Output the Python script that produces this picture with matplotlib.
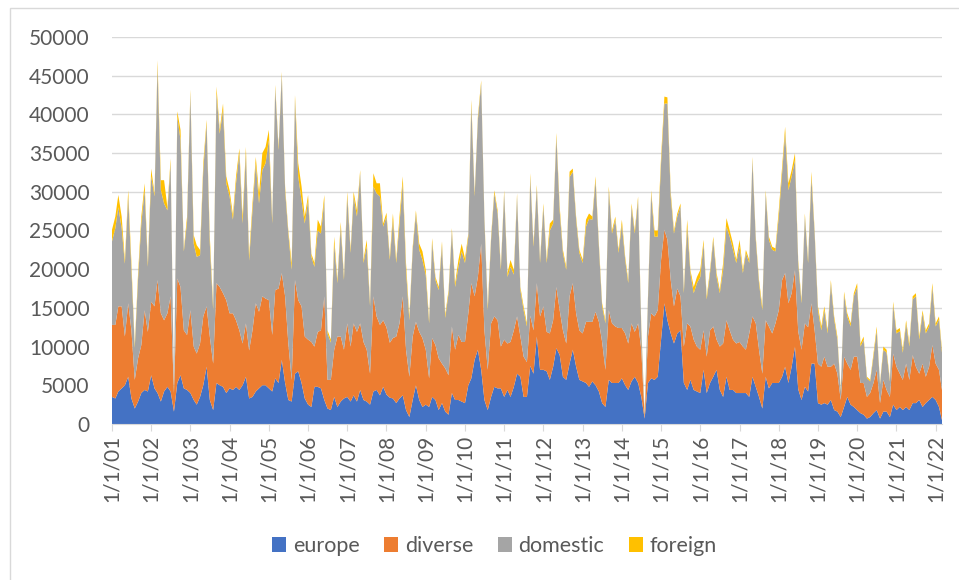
import matplotlib
matplotlib.use('Agg')
import matplotlib.pyplot as plt
import pandas as pd
from matplotlib.patches import Patch, Rectangle

# monthly values, Jan 2001 .. Mar 2022
months = pd.date_range('2001-01-01', periods=255, freq='MS')

europe = [
    3500, 3300, 4200, 4600, 5000, 6100, 3300, 2000, 2900, 4000,
    4400, 4200, 6300, 4600, 4000, 2900, 4200, 4800, 4200, 1600,
    5300, 6300, 4600, 4400, 4000, 3100, 2500, 3500, 5000, 7400,
    3100, 1800, 5300, 5000, 4800, 4000, 4600, 4400, 4800, 4400,
    5000, 6100, 3300, 3500, 4200, 4600, 5000, 5000, 4600, 4200,
    5900, 5300, 8300, 5300, 3100, 2900, 6500, 6800, 5300, 3300,
    2500, 2200, 4800, 4800, 4600, 3100, 2000, 1800, 3500, 2200,
    2900, 3300, 3500, 2900, 3700, 2900, 4400, 3100, 2900, 2500,
    4200, 4400, 3700, 4800, 3800, 3400, 3300, 2700, 3300, 3700,
    1800, 900, 3100, 5000, 3100, 2200, 2500, 2200, 3500, 3100,
    1800, 2700, 1600, 1200, 4000, 3100, 3100, 2900, 2700, 5000,
    5900, 8300, 9600, 7000, 3100, 1800, 3500, 4800, 4600, 4600,
    3500, 4400, 3500, 4800, 6500, 6100, 3500, 3500, 7500, 6500,
    11300, 7000, 7000, 6800, 5700, 7400, 9800, 8900, 6100, 5700,
    7800, 9600, 7400, 5700, 5500, 5300, 4800, 5500, 5000, 4200,
    2700, 2200, 5700, 5300, 5300, 5300, 5900, 5000, 4400, 5500,
    6100, 5300, 3500, 700, 5300, 5900, 5700, 6100, 10900, 15600,
    13400, 11700, 10400, 11700, 12100, 5300, 4400, 5700, 4400, 4200,
    4000, 7000, 4000, 5300, 6100, 7000, 4400, 3500, 6100, 4400,
    4400, 4000, 4000, 4000, 4000, 3500, 6100, 4800, 3500, 2000,
    6100, 4600, 5300, 5300, 5300, 6100, 7400, 5300, 7400, 10000,
    4500, 3100, 4800, 4200, 7800, 7800, 2700, 2500, 2700, 2500,
    3100, 1800, 1600, 900, 2200, 3500, 2500, 2200, 1800, 1400,
    1200, 700, 900, 1400, 1800, 700, 1600, 1600, 900, 2500,
    1800, 2200, 1800, 2200, 1800, 2700, 2700, 3100, 2200, 2700,
    3100, 3500, 3100, 2200, 500,
]

diverse = [
    9300, 9500, 11000, 10600, 6300, 9500, 8800, 3700, 5600, 6200,
    10300, 7700, 9500, 10600, 14600, 11400, 9200, 9500, 12300, 2400,
    13500, 11400, 7500, 7100, 10700, 6900, 6600, 6900, 8900, 7800,
    8200, 6000, 12900, 12700, 12100, 12000, 9700, 9900, 8600, 7700,
    5400, 6900, 6200, 8600, 11400, 9900, 11500, 11200, 11400, 7300,
    11400, 12200, 11200, 11200, 7300, 2800, 12100, 9200, 9900, 8000,
    8400, 8400, 5200, 7100, 7500, 13400, 3700, 3900, 6100, 9100,
    8400, 6300, 9500, 7100, 9300, 9000, 8600, 7500, 6700, 4000,
    12300, 9500, 9100, 8600, 8700, 7100, 7800, 8600, 9700, 12800,
    7800, 5200, 8200, 8200, 8800, 8900, 7100, 3700, 7600, 7100,
    6700, 5100, 5600, 5100, 8600, 6500, 8400, 7700, 7900, 9300,
    12300, 8200, 9400, 16300, 9000, 5200, 9500, 9100, 8800, 5400,
    7400, 6000, 7100, 7300, 7400, 5200, 5200, 4500, 6500, 5600,
    6900, 6900, 8200, 5100, 6000, 6000, 7900, 5800, 6000, 4700,
    8700, 8600, 6900, 6400, 6200, 7900, 8400, 7700, 9500, 9000,
    7900, 4800, 9000, 7700, 7300, 7100, 6500, 6700, 6000, 7500,
    5800, 7700, 6100, 200, 6000, 8400, 8200, 8600, 10300, 9500,
    10400, 6900, 4800, 5800, 4400, 4700, 8600, 6900, 6500, 5800,
    5600, 5100, 4700, 6800, 6500, 3900, 5600, 6900, 7300, 7700,
    6500, 6400, 6600, 6000, 5600, 8200, 7800, 8200, 6100, 4500,
    7300, 8000, 6400, 7700, 9400, 12500, 12100, 10300, 9500, 9900,
    7500, 6500, 8200, 8300, 7800, 4300, 5100, 4900, 6000, 4900,
    4300, 6000, 4900, 2200, 6500, 4300, 4500, 6500, 6900, 3900,
    4100, 2800, 3100, 3900, 5200, 2000, 4100, 2800, 2600, 6600,
    5600, 4300, 3900, 5600, 3900, 6200, 4700, 3400, 5600, 3400,
    4300, 6700, 4700, 4800, 3900,
]

domestic = [
    10800, 12500, 12800, 10100, 9400, 13800, 7800, 4100, 10300, 15700,
    15500, 8400, 16200, 14200, 27600, 15900, 15100, 13300, 17200, 400,
    20900, 19000, 10200, 14600, 28000, 13300, 12500, 11400, 18900, 23600,
    12000, 6900, 24500, 19800, 23700, 15100, 15100, 12100, 17700, 22900,
    15500, 22000, 11600, 15500, 18100, 14000, 16300, 17500, 20700, 14400,
    26100, 17900, 25600, 13700, 14200, 14200, 23300, 16000, 13700, 14600,
    18000, 11000, 10300, 13100, 12500, 12400, 6000, 4800, 13700, 6900,
    14200, 9000, 16400, 12100, 16400, 14900, 19400, 10200, 13400, 8700,
    14200, 15900, 16600, 12100, 14300, 10700, 15300, 9500, 12900, 14600,
    10300, 7300, 11200, 14000, 10600, 10100, 9600, 7100, 12400, 8400,
    8800, 15300, 6500, 10600, 12300, 8100, 8800, 11700, 10200, 9900,
    23000, 12900, 20300, 20700, 14300, 7700, 10800, 15900, 13800, 9900,
    18900, 8600, 9700, 7200, 15500, 6000, 6000, 4600, 17900, 10800,
    12300, 6900, 12900, 8900, 13300, 12500, 19400, 12800, 10000, 9500,
    15400, 14400, 12100, 10000, 9100, 12300, 13300, 13200, 17000, 9700,
    4600, 6000, 15500, 11600, 13800, 9700, 13400, 9500, 7800, 15100,
    12700, 16000, 2500, 300, 4800, 15500, 10300, 9500, 12500, 16300,
    17600, 10800, 9400, 9300, 11600, 6900, 12500, 6900, 6000, 8200,
    9400, 11200, 7400, 7400, 11200, 8100, 6900, 9500, 12100, 12100,
    11600, 10400, 12300, 9500, 12500, 9100, 20200, 10800, 8600, 8200,
    16400, 11200, 10800, 9300, 12100, 13800, 18100, 14600, 15100, 14200,
    8800, 6000, 13800, 8300, 16300, 12500, 6900, 4700, 6000, 4300,
    10800, 5700, 4400, 1100, 8000, 6100, 5600, 7800, 9000, 4700,
    5600, 2400, 1500, 3400, 5100, 2400, 3900, 4800, 2000, 6300,
    4300, 5500, 3500, 5200, 4300, 7200, 9100, 4400, 6500, 5600,
    5200, 7500, 4800, 6500, 4800,
]

foreign = [
    1500, 1500, 1600, 1500, 500, 800, 900, 400, 700, 900,
    900, 500, 1000, 400, 800, 1300, 3000, 400, 600, 200,
    700, 1300, 300, 700, 500, 1100, 1500, 700, 900, 500,
    900, 500, 900, 500, 800, 900, 800, 600, 900, 600,
    900, 800, 700, 900, 800, 1300, 2200, 2100, 1300, 500,
    400, 400, 400, 500, 400, 900, 600, 1700, 1800, 900,
    700, 400, 500, 1400, 900, 700, 400, 400, 900, 400,
    600, 400, 600, 400, 600, 800, 400, 400, 800, 400,
    1700, 1300, 1700, 400, 500, 400, 800, 400, 900, 900,
    900, 500, 400, 400, 800, 1100, 700, 400, 500, 400,
    400, 500, 400, 400, 400, 500, 900, 1000, 600, 400,
    700, 400, 400, 400, 400, 500, 400, 400, 400, 400,
    400, 500, 900, 600, 400, 400, 500, 400, 500, 400,
    400, 400, 400, 400, 900, 500, 500, 600, 400, 400,
    700, 400, 400, 400, 400, 900, 700, 400, 500, 400,
    400, 400, 500, 400, 400, 400, 600, 400, 400, 400,
    400, 400, 500, 200, 400, 400, 800, 800, 800, 900,
    800, 600, 400, 400, 400, 400, 900, 400, 800, 800,
    900, 500, 400, 400, 400, 500, 400, 900, 1100, 800,
    800, 400, 900, 400, 400, 400, 400, 400, 400, 500,
    400, 400, 400, 400, 800, 800, 800, 900, 800, 900,
    400, 400, 400, 400, 700, 400, 500, 500, 500, 400,
    400, 400, 400, 200, 400, 400, 400, 400, 500, 400,
    400, 200, 200, 400, 500, 200, 400, 400, 200, 400,
    400, 400, 400, 400, 400, 400, 400, 400, 400, 400,
    400, 500, 400, 400, 400,
]

series_names = ['europe', 'diverse', 'domestic', 'foreign']
colors = ['#4472C4', '#ED7D31', '#A5A5A5', '#FFC000']
tick_years = list(range(2001, 2023))
tick_labels = [f'1/1/{y % 100:02d}' for y in tick_years]
y_ticks = list(range(0, 50001, 5000))

plt.rcParams['font.family'] = ['Lato', 'DejaVu Sans']
text_color = '#595959'

fig = plt.figure(figsize=(9.59, 5.8), dpi=100)
ax = fig.add_axes([112 / 959, 1 - 424 / 580, 830 / 959, 387 / 580])

ax.stackplot(months, europe, diverse, domestic, foreign, colors=colors,
             labels=series_names, linewidth=0)

ax.set_ylim(0, 50000)
ax.set_xlim(months[0], months[-1])
ax.set_yticks(y_ticks)
ax.set_yticklabels([str(v) for v in y_ticks])
ax.set_xticks([pd.Timestamp(y, 1, 1) for y in tick_years])
ax.set_xticklabels(tick_labels, rotation=90)

ax.grid(axis='y', color='#D9D9D9', linewidth=1)
ax.set_axisbelow(True)
for side in ['top', 'right', 'left']:
    ax.spines[side].set_visible(False)
ax.spines['bottom'].set_color('#D9D9D9')
ax.tick_params(axis='y', length=0, labelsize=15, colors=text_color, pad=16)
ax.tick_params(axis='x', length=5, color='#D9D9D9', labelsize=15,
               labelcolor=text_color, pad=3)

handles = [Patch(facecolor=c, label=n) for c, n in zip(colors, series_names)]
fig.legend(handles=handles, loc='center', bbox_to_anchor=(494.5 / 959, 34 / 580),
           ncol=4, frameon=False, fontsize=15.5, labelcolor=text_color,
           handlelength=0.65, handleheight=0.65, handletextpad=0.3,
           columnspacing=1.15)

# light chart-area border (only left and top edges fall inside the picture)
fig.patches.append(Rectangle((10 / 959, -0.05), 1.0, 1 - 8 / 580 + 0.05,
                             transform=fig.transFigure, fill=False,
                             edgecolor='#D9D9D9', linewidth=1))

fig.savefig('out.png', dpi=100)
